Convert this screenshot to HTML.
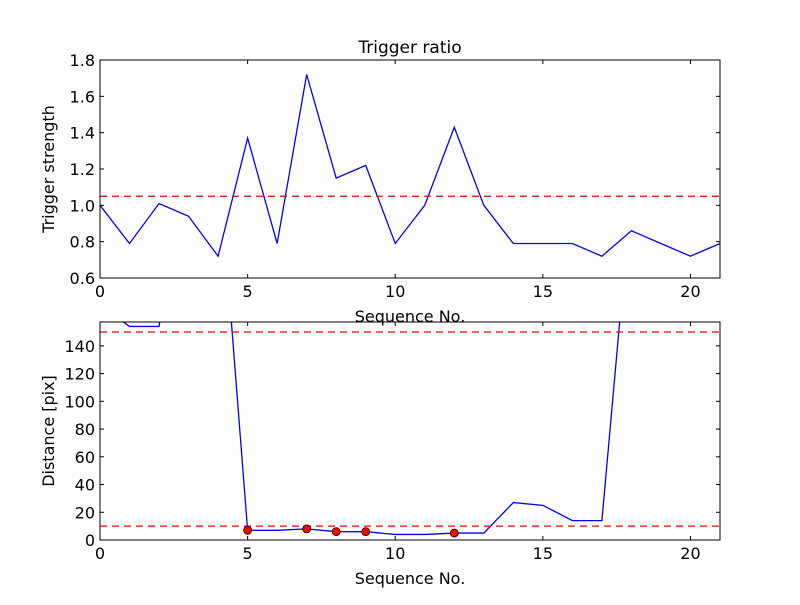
<!DOCTYPE html>
<html><head><meta charset="utf-8"><style>
html,body{margin:0;padding:0;background:#fff;}
svg text{font-family:"DejaVu Sans","Liberation Sans",sans-serif;fill:#000;}
</style></head><body>
<svg id="fig" width="800" height="600" xmlns="http://www.w3.org/2000/svg"></svg>
<script>
const seq = [0,1,2,3,4,5,6,7,8,9,10,11,12,13,14,15,16,17,18,19,20,21];
const strength = [1.0,0.79,1.01,0.94,0.72,1.37,0.79,1.72,1.15,1.22,0.79,1.0,1.43,1.0,0.79,0.79,0.79,0.72,0.86,0.79,0.72,0.79];
const distance = [170,154,154,300,280,7,7,8,6,6,4,4,5,5,27,25,14,14,252,300,300,300];
const strengthThreshold = 1.05;
const distHigh = 150, distLow = 10;
const xTicks = [0,5,10,15,20];
const yTicksTop = ["0.6","0.8","1.0","1.2","1.4","1.6","1.8"];
const yTicksBot = [0,20,40,60,80,100,120,140];

const NS="http://www.w3.org/2000/svg";
const svg=document.getElementById('fig');
function mk(tag,attrs,parent){const e=document.createElementNS(NS,tag);for(const k in attrs)e.setAttribute(k,attrs[k]);(parent||svg).appendChild(e);return e;}

const X0=100,X1=720,XMAX=21;
function sx(v){return X0+(X1-X0)*v/XMAX;}
const T={y0:278,y1:60,min:0.6,max:1.8};
function syT(v){return T.y0-(T.y0-T.y1)*(v-T.min)/(T.max-T.min);}
const B={y0:540,y1:322,min:0,max:157.2};
function syB(v){return B.y0-(B.y0-B.y1)*(v-B.min)/(B.max-B.min);}

const defs=mk('defs',{});
const c1=mk('clipPath',{id:'clipTop'},defs);mk('rect',{x:X0,y:T.y1,width:X1-X0,height:T.y0-T.y1},c1);
const c2=mk('clipPath',{id:'clipBot'},defs);mk('rect',{x:X0,y:B.y1,width:X1-X0,height:B.y0-B.y1},c2);

function axes(name,y0,y1,yt,syf,yLabel,title){
  const g=mk('g',{});
  
  
  xTicks.forEach(t=>{
    const x=sx(t);
    mk('line',{x1:x,y1:y0,x2:x,y2:y0-4,stroke:'#000','stroke-width':1},g);
    mk('line',{x1:x,y1:y1,x2:x,y2:y1+4,stroke:'#000','stroke-width':1},g);
    const tx=mk('text',{x:x,y:y0+19,'font-size':16,'text-anchor':'middle'},g);
    
    
    tx.textContent=t;
  });
  yt.forEach(t=>{
    const y=syf(parseFloat(t));
    mk('line',{x1:X0,y1:y,x2:X0+4,y2:y,stroke:'#000','stroke-width':1},g);
    mk('line',{x1:X1,y1:y,x2:X1-4,y2:y,stroke:'#000','stroke-width':1},g);
    const tx=mk('text',{x:X0-5,y:y+6,'font-size':16,'text-anchor':'end'},g);
    
    
    tx.textContent=t;
  });
  const yl=mk('text',{x:0,y:0,'font-size':16,'text-anchor':'middle',transform:`translate(${X0-46},${(y0+y1)/2}) rotate(-90)`},g);
  
  
  yl.textContent=yLabel;
  const xl=mk('text',{x:(X0+X1)/2,y:y0+44,'font-size':16,'text-anchor':'middle'},g);
  
  
  xl.textContent='Sequence No.';
  if(title){
    const tt=mk('text',{x:(X0+X1)/2,y:y1-7,'font-size':17,'text-anchor':'middle'},g);
    
    
    tt.textContent=title;
  }
  return g;
}
function line(vals,syf,clip,name){
  const d=vals.map((v,i)=>(i?'L':'M')+sx(seq[i]).toFixed(2)+','+syf(v).toFixed(2)).join('');
  const p=mk('path',{d:d,fill:'none',stroke:'#0000ff','stroke-width':1.3,'clip-path':`url(#${clip})`});
  
  
}
function hline(v,syf,name){
  const y=syf(v);
  const l=mk('line',{x1:X0,y1:y,x2:X1,y2:y,stroke:'#ff0000','stroke-width':1.3,'stroke-dasharray':'7,5'});
  
  
}

line(strength,syT,'clipTop','strength-line');
hline(strengthThreshold,syT,'strength-threshold-line');
mk('rect',{x:X0,y:T.y1,width:X1-X0,height:T.y0-T.y1,fill:'none',stroke:'#000','stroke-width':1});
axes('top-axes',T.y0,T.y1,yTicksTop,syT,'Trigger strength','Trigger ratio');

line(distance,syB,'clipBot','distance-line');
hline(distHigh,syB,'distance-upper-threshold');
hline(distLow,syB,'distance-lower-threshold');
seq.forEach((s,i)=>{
  if(strength[i]>strengthThreshold){
    const c=mk('circle',{cx:sx(s),cy:syB(distance[i]),r:4,fill:'#ff0000',stroke:'#000','stroke-width':0.8,'clip-path':'url(#clipBot)'});
    
    
  }
});
mk('rect',{x:X0,y:B.y1,width:X1-X0,height:B.y0-B.y1,fill:'none',stroke:'#000','stroke-width':1});
axes('bottom-axes',B.y0,B.y1,yTicksBot.map(String),syB,'Distance [pix]',null);
</script>
</body></html>
